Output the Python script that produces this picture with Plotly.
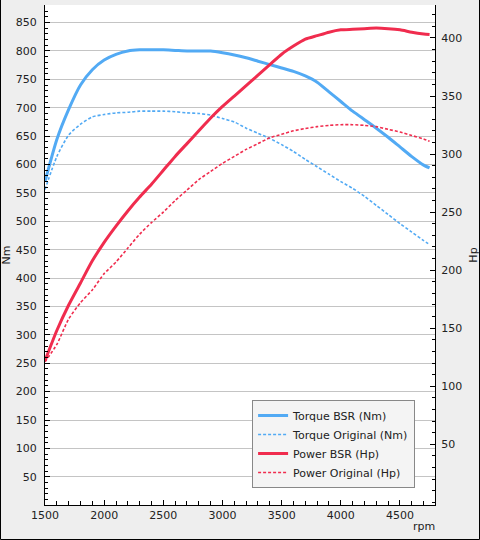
import plotly.graph_objects as go

rpm = [1500, 1600, 1700, 1800, 1900, 2000, 2100, 2200, 2300, 2400, 2500,
       2600, 2700, 2800, 2900, 3000, 3100, 3200, 3300, 3400, 3500, 3600,
       3700, 3800, 3900, 4000, 4100, 4200, 4300, 4400, 4500, 4600, 4700, 4750]

torque_bsr = [570, 644, 697, 740, 767, 784, 794, 800, 802, 802, 802,
              801, 800, 800, 800, 797, 793, 788, 782, 776, 770, 764,
              756, 745, 728, 711, 694, 679, 664, 648, 631, 614, 599, 594]

torque_orig = [556, 614, 652, 671, 684, 688, 691, 692, 694, 694, 694,
               693, 691, 690, 687, 681, 675, 664, 655, 646, 635, 623,
               609, 596, 583, 570, 558, 544, 528, 512, 496, 481, 466, 459]

power_bsr = [122, 148, 170, 189, 208, 224, 238, 251, 263, 274, 286,
             298, 309, 320, 331, 341, 350, 359, 368, 377, 386, 393,
             399, 402, 405, 407, 407.5, 408, 408.5, 408, 407, 405, 403.5, 403]

power_orig = [121, 136, 158, 172, 183, 197, 207, 219, 231, 241, 250,
              260, 269, 278, 285, 292, 298, 304, 309, 314, 317, 320,
              322, 323.6, 324.7, 325.3, 325.3, 324.7, 323.6, 321.3, 319, 316, 313, 311]

nm_ticks = list(range(50, 851, 50))
hp_ticks = list(range(50, 401, 50))

BLUE = "#52aaf4"
RED = "#f02c4e"

fig = go.Figure()
fig.add_trace(go.Scatter(x=rpm, y=torque_bsr, name="Torque BSR (Nm)", mode="lines",
                         line=dict(color=BLUE, width=3, shape="spline", smoothing=0.6)))
fig.add_trace(go.Scatter(x=rpm, y=torque_orig, name="Torque Original (Nm)", mode="lines",
                         line=dict(color=BLUE, width=1.6, dash="3px,2px", shape="spline", smoothing=0.6)))
fig.add_trace(go.Scatter(x=rpm, y=power_bsr, name="Power BSR (Hp)", mode="lines",
                         line=dict(color=RED, width=3, shape="spline", smoothing=0.6), yaxis="y2"))
fig.add_trace(go.Scatter(x=rpm, y=power_orig, name="Power Original (Hp)", mode="lines",
                         line=dict(color=RED, width=1.6, dash="3px,2px", shape="spline", smoothing=0.6),
                         yaxis="y2"))

tickfont = dict(family="DejaVu Sans", size=11, color="#222222")

# frame round the page: left, bottom and right edges only (no top edge)
fx0, fx1 = -44.5 / 390, 434.5 / 390
fy0, fy1 = -34.5 / 500, 506 / 500
frame = f"M{fx0},{fy1} L{fx0},{fy0} L{fx1},{fy0} L{fx1},{fy1}"

fig.update_layout(
    width=480, height=540,
    margin=dict(l=45, r=45, t=5, b=35, autoexpand=False),
    paper_bgcolor="#eeeeee",
    plot_bgcolor="white",
    font=dict(family="DejaVu Sans", size=11, color="#222222"),
    xaxis=dict(range=[1500, 4796], dtick=500, tick0=1500, showgrid=False, zeroline=False,
               automargin=False,
               showline=True, linecolor="black", linewidth=1,
               ticks="inside", ticklen=5, tickcolor="black", tickfont=tickfont,
               minor=dict(dtick=100, ticks="inside", ticklen=4, tickcolor="black")),
    yaxis=dict(range=[0.3, 881], tickmode="array", tickvals=nm_ticks, showgrid=True,
               gridcolor="#c4c4c4", automargin=False,
               zeroline=False, showline=True, linecolor="black", linewidth=1,
               ticks="inside", ticklen=5, tickcolor="black", tickfont=tickfont,
               ticklabelstandoff=5,
               minor=dict(tickmode="linear", tick0=0, dtick=10, ticks="inside", ticklen=3,
                          tickcolor="black", showgrid=False),
               title=dict(text="Nm", standoff=8, font=dict(size=11))),
    yaxis2=dict(range=[-2.3, 428.4], tickmode="array", tickvals=hp_ticks, overlaying="y",
                side="right", automargin=False,
                showgrid=False, zeroline=False, showline=True, linecolor="black", linewidth=1,
                ticks="inside", ticklen=5, tickcolor="black", tickfont=tickfont,
                ticklabelstandoff=3,
                minor=dict(tickmode="linear", tick0=0, dtick=10, ticks="inside", ticklen=3,
                           tickcolor="black"),
                title=dict(text="Hp", standoff=13, font=dict(size=11))),
    legend=dict(x=0.531, y=0.21, xanchor="left", yanchor="top",
                bgcolor="#f4f4f4", bordercolor="#888888", borderwidth=1,
                font=dict(size=11), tracegroupgap=0),
    annotations=[dict(text="rpm", xref="paper", yref="paper", x=1.005, y=-0.026,
                      xanchor="right", yanchor="top", showarrow=False,
                      font=dict(size=11))],
    shapes=[dict(type="path", xref="paper", yref="paper", path=frame,
                 line=dict(color="black", width=1), layer="above")],
)

# drop the browser's default 8px body margin so the figure sits at the page corner
fig.write_html("out.html", config={"displayModeBar": False},
               post_script="document.body.style.margin='0';")
